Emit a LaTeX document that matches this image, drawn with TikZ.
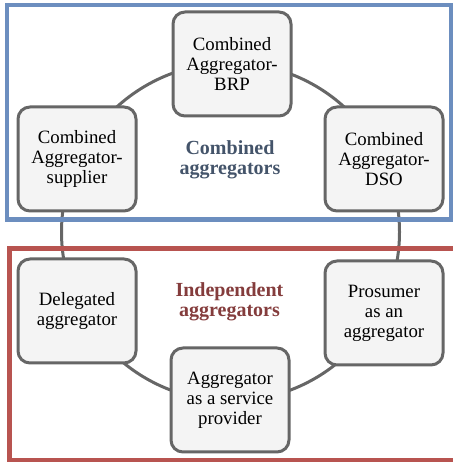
\documentclass[tikz,border=0pt]{standalone}
\usepackage{fontspec}
\setmainfont{Liberation Serif}

\definecolor{frameblue}{HTML}{6C8EBF}
\definecolor{framered}{HTML}{B85450}
\definecolor{textblue}{HTML}{44546A}
\definecolor{textred}{HTML}{843C3C}
\definecolor{boxgray}{HTML}{F4F4F4}
\definecolor{linegray}{HTML}{666666}

\tikzset{
  aggbox/.style={draw=linegray, line width=3pt, fill=boxgray, rounded corners=12pt,
    minimum width=118pt, minimum height=104pt, align=center,
    font=\fontsize{18.8}{20}\selectfont},
  grouplabel/.style={align=center, font=\bfseries\fontsize{20}{20}\selectfont},
  ringline/.style={draw=linegray, line width=3pt},
  groupframe/.style={line width=4.5pt}
}

\begin{document}
\begin{tikzpicture}[x=1pt,y=1pt]
\useasboundingbox (0,0) rectangle (452,465);

\coordinate (ring) at (230.5,233); % centre of the ring
\draw[ringline] (ring) circle[radius=169];

% combined aggregators
\node[aggbox] (brp) at (232,401) {Combined\\Aggregator-\\BRP};
\node[aggbox] (supplier) at (77,306) {Combined\\Aggregator-\\supplier};
\node[aggbox] (dso) at (384,306) {Combined\\Aggregator-\\DSO};

% independent aggregators
\node[aggbox] (delegated) at (77,154) {Delegated\\aggregator};
\node[aggbox] (prosumer) at (384,152) {Prosumer\\as an\\aggregator};
\node[aggbox] (provider) at (230,65) {Aggregator\\as a service\\provider};

\node[grouplabel, text=textblue] (combined) at (230,305) {Combined\\aggregators};
\node[grouplabel, text=textred] (independent) at (229.5,163) {Independent\\aggregators};

\draw[groupframe, frameblue] (7,460) rectangle (451,245.5); % upper frame
\draw[groupframe, framered] (9.5,216.5) rectangle (470,5); % lower frame

\end{tikzpicture}
\end{document}
